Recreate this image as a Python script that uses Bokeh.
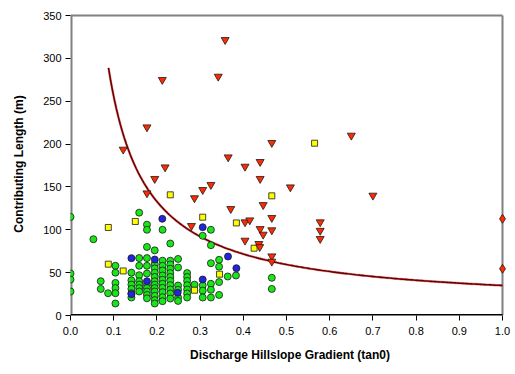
from bokeh.plotting import figure
from bokeh.embed import file_html
from bokeh.resources import INLINE
from bokeh.models import FixedTicker, Range1d
import numpy as np

# ---- data ----
green_x = [0.0, 0.0, 0.0, 0.0,
           0.053,
           0.07, 0.07,
           0.087,
           0.104, 0.104, 0.104, 0.104, 0.104, 0.104,
           0.141, 0.141, 0.141, 0.141, 0.141, 0.141,
           0.159, 0.159, 0.159, 0.159, 0.159, 0.159, 0.159, 0.159,
           0.177, 0.177, 0.177, 0.177, 0.177, 0.177, 0.177, 0.177, 0.177, 0.177, 0.177,
           0.195, 0.195, 0.195, 0.195, 0.195, 0.195, 0.195, 0.195, 0.195, 0.195, 0.195, 0.195,
           0.213, 0.213, 0.213, 0.213, 0.213, 0.213, 0.213, 0.213, 0.213, 0.213, 0.213,
           0.231, 0.231, 0.231, 0.231, 0.231, 0.231, 0.231, 0.231, 0.231, 0.231, 0.231,
           0.249, 0.249, 0.249, 0.249, 0.249, 0.249,
           0.27, 0.27, 0.27, 0.27, 0.27, 0.27, 0.27,
           0.287,
           0.306, 0.306, 0.306, 0.306,
           0.325, 0.325, 0.325, 0.325, 0.325, 0.325,
           0.344, 0.344, 0.344, 0.344,
           0.364, 0.383,
           0.466, 0.466]
green_y = [115, 49, 42, 28,
           89,
           40, 31,
           26,
           58, 50, 38, 32, 26, 14,
           50, 41, 36, 31, 26, 21,
           120, 67, 58, 47, 40, 36, 32, 28,
           106, 100, 80, 67, 58, 49, 36, 32, 28, 24, 20,
           76, 60, 55, 50, 45, 40, 36, 32, 28, 23, 18, 14,
           100, 64, 58, 52.5, 46.7, 41.7, 37, 32.3, 27.2, 21.4, 16.7,
           84, 64, 59.5, 54.5, 49.5, 45, 40.4, 35.4, 30.3, 25.7, 19.8,
           66, 56, 35, 30, 21, 17,
           49.5, 45, 40.4, 35.4, 30.3, 25.7, 21,
           36,
           93, 35, 29, 21,
           100, 82, 61, 37, 30, 21,
           65, 57, 39, 24,
           45.5, 46.7,
           44, 31]

blue_x = [0.2125, 0.306, 0.141, 0.195, 0.177, 0.306, 0.141, 0.248, 0.3646, 0.384]
blue_y = [112.8, 103, 66.9, 65.3, 40, 42, 24.9, 26.5, 68.8, 55.2]

yellow_x = [0.231, 0.306, 0.15, 0.0875, 0.0875, 0.122, 0.345, 0.287, 0.466, 0.384, 0.425, 0.565]
yellow_y = [140.8, 114.7, 109.7, 102.7, 59.9, 52, 48.2, 29.5, 139.6, 108, 78.5, 201]

red_x = [0.219, 0.195, 0.177, 0.287, 0.306, 0.325, 0.28, 0.122, 0.177, 0.2125, 0.342, 0.358,
         0.65, 0.466, 0.365, 0.404, 0.439, 0.439, 0.509, 0.446, 0.371, 0.404, 0.415, 0.466,
         0.578, 0.439, 0.466, 0.578, 0.446, 0.404, 0.578, 0.436, 0.438, 0.466, 0.466, 0.70]
red_y = [173, 159.5, 142.7, 137, 146.6, 152.5, 104.6, 193.7, 219.7, 275, 278.8, 321.6,
         210, 201.5, 184.7, 173.8, 179.3, 159.5, 149.7, 129, 124.4, 108.9, 111.2, 114,
         108.9, 101, 99.6, 99, 94.5, 87.5, 89.5, 83.6, 80, 69.2, 63, 140]

diamond_x = [1.0, 1.0]
diamond_y = [112.8, 54.5]

# fitted trend line L = a / tan + b
trend_a = 24.5
trend_b = 10.5
trend_start = 0.088

x_ticks = [0.0, 0.1, 0.2, 0.3, 0.4, 0.5, 0.6, 0.7, 0.8, 0.9, 1.0]
y_ticks = [0, 50, 100, 150, 200, 250, 300, 350]
x_max, y_max = 1.0, 350

FONT = "Liberation Sans"

# small padding beyond the plot-area box so marks on the right edge are not clipped
pad_x = 7 / 432
pad_y = 3 * 350 / 300

p = figure(width=513, height=367, output_backend="svg", toolbar_location=None,
           x_range=Range1d(0, x_max + pad_x), y_range=Range1d(0, y_max + pad_y),
           min_border_left=70, min_border_right=4, min_border_top=12, min_border_bottom=52)
p.background_fill_color = "white"
p.border_fill_color = "white"
p.outline_line_color = None
p.xgrid.visible = False
p.ygrid.visible = False

# plot-area box
p.segment(x0=[0, x_max], y0=[y_max, 0], x1=[x_max, x_max], y1=[y_max, y_max],
          line_color="#808080", line_width=2)
p.segment(x0=[0], y0=[0], x1=[0], y1=[y_max], line_color="#808080", line_width=4)
p.segment(x0=[0], y0=[0], x1=[x_max], y1=[0], line_color="#000000", line_width=3)

tx = np.linspace(trend_start, 1.0, 200)
ty = trend_a / tx + trend_b
p.line(tx, ty, line_color="#e04040", line_width=2.6, line_alpha=0.5)
p.line(tx, ty, line_color="#6b0000", line_width=1.6)

p.scatter(green_x, green_y, marker="circle", size=7, fill_color="#19e619", line_color="#1a1a1a", line_width=0.8)
p.scatter(blue_x, blue_y, marker="circle", size=7, fill_color="#2323e0", line_color="#1a1a1a", line_width=0.8)
p.scatter(yellow_x, yellow_y, marker="square", size=6, fill_color="#ffff00", line_color="#1a1a1a", line_width=0.8)
p.scatter(red_x, red_y, marker="inverted_triangle", size=8, fill_color="#ff2a00", line_color="#1a1a1a", line_width=0.8)
p.scatter(diamond_x, diamond_y, marker="diamond", size=9, fill_color="#ff2a00", line_color="#1a1a1a", line_width=0.8)

p.xaxis.ticker = FixedTicker(ticks=x_ticks)
p.yaxis.ticker = FixedTicker(ticks=y_ticks)
p.xaxis.major_label_overrides = {t: f"{t:.1f}" for t in x_ticks}

for ax in (p.xaxis[0], p.yaxis[0]):
    ax.major_label_text_font = FONT
    ax.major_label_text_font_size = "11px"
    ax.major_label_text_color = "#000000"
    ax.axis_label_text_font = FONT
    ax.axis_label_text_font_size = "12px"
    ax.axis_label_text_font_style = "bold"
    ax.axis_label_text_color = "#000000"
    ax.minor_tick_line_color = None
    ax.major_tick_in = 0
    ax.major_tick_out = 5
    ax.major_tick_line_color = "#000000"
    ax.axis_line_color = None

p.xaxis.axis_label = "Discharge Hillslope Gradient (tan0)"
p.yaxis.axis_label = "Contributing Length (m)"
p.xaxis.major_label_standoff = 6
p.xaxis.axis_label_standoff = 10
p.yaxis.major_label_standoff = 4
p.yaxis.axis_label_standoff = 14

open("out.html", "w").write(file_html(p, INLINE))
